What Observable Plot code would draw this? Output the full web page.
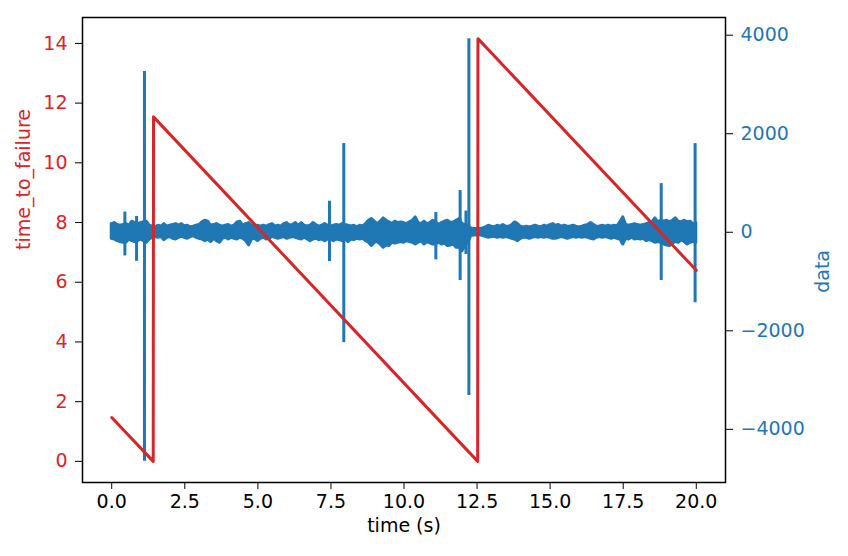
<!DOCTYPE html>
<html><head><meta charset="utf-8">
<script src="https://cdn.jsdelivr.net/npm/d3@7"></script>
<script src="https://cdn.jsdelivr.net/npm/@observablehq/plot@0.6"></script>
<style>
html,body{margin:0;padding:0;background:#fff;}
#chart{position:relative;width:848px;height:556px;}
#chart svg{position:absolute;left:0;top:0;}
</style></head><body><div id="chart"></div>
<script>
// time_to_failure series (red, left axis)
const ttfTime  = [0, 1.42, 1.43, 12.52, 12.53, 20];
const ttfValue = [1.47, 0, 11.54, 0, 14.16, 6.40];

// acoustic data envelope (blue, right axis), sampled every 0.1 s
const bandTime = [0,0.1,0.2,0.3,0.4,0.5,0.6,0.7,0.8,0.9,1,1.1,1.2,1.3,1.4,1.5,1.6,1.7,1.8,1.9,2,2.1,2.2,2.3,2.4,2.5,2.6,2.7,2.8,2.9,3,3.1,3.2,3.3,3.4,3.5,3.6,3.7,3.8,3.9,4,4.1,4.2,4.3,4.4,4.5,4.6,4.7,4.8,4.9,5,5.1,5.2,5.3,5.4,5.5,5.6,5.7,5.8,5.9,6,6.1,6.2,6.3,6.4,6.5,6.6,6.7,6.8,6.9,7,7.1,7.2,7.3,7.4,7.5,7.6,7.7,7.8,7.9,8,8.1,8.2,8.3,8.4,8.5,8.6,8.7,8.8,8.9,9,9.1,9.2,9.3,9.4,9.5,9.6,9.7,9.8,9.9,10,10.1,10.2,10.3,10.4,10.5,10.6,10.7,10.8,10.9,11,11.1,11.2,11.3,11.4,11.5,11.6,11.7,11.8,11.9,12,12.1,12.2,12.3,12.4,12.5,12.6,12.7,12.8,12.9,13,13.1,13.2,13.3,13.4,13.5,13.6,13.7,13.8,13.9,14,14.1,14.2,14.3,14.4,14.5,14.6,14.7,14.8,14.9,15,15.1,15.2,15.3,15.4,15.5,15.6,15.7,15.8,15.9,16,16.1,16.2,16.3,16.4,16.5,16.6,16.7,16.8,16.9,17,17.1,17.2,17.3,17.4,17.5,17.6,17.7,17.8,17.9,18,18.1,18.2,18.3,18.4,18.5,18.6,18.7,18.8,18.9,19,19.1,19.2,19.3,19.4,19.5,19.6,19.7,19.8,19.9,20];
const bandHi = [
166,187,146,132,146,166,132,214,187,166,
187,200,214,132,112,99,132,112,166,112,
132,146,166,132,166,119,132,99,112,132,
146,200,234,214,132,146,166,132,112,132,
146,112,132,200,214,132,166,187,132,112,
132,112,132,112,146,166,112,132,112,166,
187,132,146,187,132,187,132,119,132,187,
146,112,132,166,132,112,132,146,132,166,
146,132,119,132,99,132,119,166,234,268,
214,166,214,281,234,200,166,214,187,200,
187,166,200,234,302,187,166,214,166,187,
234,200,146,187,214,234,187,200,234,268,
166,146,132,78,65,65,65,78,99,132,
112,99,132,112,146,112,112,146,200,166,
112,99,112,99,112,132,112,99,132,112,
146,166,132,146,112,132,112,119,132,112,
99,112,132,146,187,146,112,119,132,112,
132,112,132,119,200,302,146,132,146,166,
146,132,146,166,187,200,281,200,234,214,
234,200,234,281,214,200,234,200,214,166,
187];
const bandLo = [
-132,-146,-180,-200,-214,-214,-146,-180,-200,-180,
-146,-180,-214,-146,-112,-99,-112,-92,-160,-112,
-99,-132,-146,-112,-92,-112,-132,-99,-78,-112,
-132,-146,-180,-146,-200,-132,-180,-214,-132,-112,
-146,-112,-132,-146,-112,-132,-180,-268,-146,-132,
-180,-132,-112,-146,-132,-99,-112,-132,-112,-99,
-132,-112,-99,-112,-132,-146,-112,-146,-180,-146,
-132,-160,-146,-180,-146,-146,-180,-146,-160,-180,
-146,-200,-146,-160,-132,-146,-132,-180,-214,-281,
-214,-200,-248,-315,-268,-281,-214,-227,-214,-200,
-214,-180,-200,-214,-248,-214,-180,-248,-200,-227,
-248,-248,-214,-248,-227,-281,-268,-248,-315,-315,
-383,-281,-214,-78,-65,-65,-58,-78,-92,-112,
-99,-92,-112,-99,-112,-99,-112,-132,-146,-180,
-132,-112,-112,-132,-112,-99,-112,-99,-112,-99,
-112,-132,-132,-112,-99,-112,-132,-112,-99,-112,
-99,-112,-99,-112,-132,-146,-112,-99,-112,-99,
-112,-132,-112,-132,-146,-248,-132,-146,-112,-146,
-132,-146,-132,-180,-160,-180,-214,-200,-214,-248,
-268,-281,-227,-200,-214,-160,-200,-248,-214,-200,
-214];
// isolated bursts in the data
const spikeTime = [0.45, 0.85, 1.12, 7.45, 7.94, 11.09, 11.92, 12.12, 12.22, 18.80, 19.96];
const spikeHi   = [410, 320, 3265, 630, 1800, 400, 846, 430, 3930, 988, 1800];
const spikeLo   = [-480, -590, -4650, -595, -2240, -560, -980, -450, -3315, -980, -1430];

// ticks
const xTicks = [0, 2.5, 5, 7.5, 10, 12.5, 15, 17.5, 20];
const leftTicks = [0, 2, 4, 6, 8, 10, 12, 14];
const rightTicks = [-4000, -2000, 0, 2000, 4000];

const RED = "#d62728", BLUE = "#1f77b4";
const W = 848, H = 556;
const margins = {marginTop: 17, marginRight: 123, marginBottom: 74, marginLeft: 82};
const pad = ([a, b]) => [a - (b - a) * 0.05, b + (b - a) * 0.05];

const ttf = ttfTime.map((t, i) => ({t, v: ttfValue[i]}));
const band = bandTime.map((t, i) => ({t, hi: bandHi[i], lo: bandLo[i]}));
const spikes = spikeTime.map((t, i) => ({t, hi: spikeHi[i], lo: spikeLo[i]}));

const xDomain = pad(d3.extent(bandTime));
const leftDomain = pad(d3.extent(ttfValue));
const rightDomain = pad(d3.extent([...bandHi, ...bandLo, ...spikeHi, ...spikeLo]));

const FS = 19;
const style = {background: "transparent", fontFamily: "DejaVu Sans", fontSize: FS + "px", overflow: "visible"};
const minusFmt = d => d < 0 ? "\u2212" + Math.abs(d) : String(d);
const xFmt = d3.format(".1f");
const leftFmt = d => String(d);

const bluePlot = Plot.plot({
  width: W, height: H, ...margins, style,
  x: {domain: xDomain, axis: null},
  y: {domain: rightDomain, axis: "right", ticks: rightTicks, tickSize: 7, tickPadding: 8, tickFormat: minusFmt, label: null},
  marks: [
    Plot.areaY(band, {x: "t", y1: "lo", y2: "hi", fill: BLUE, stroke: BLUE, strokeWidth: 3, strokeLinejoin: "round"}),
    Plot.ruleX(spikes, {x: "t", y1: "lo", y2: "hi", stroke: BLUE, strokeWidth: 3}),
    Plot.text(["data"], {text: d => d, frameAnchor: "right", dx: 97, rotate: -90, fill: BLUE, fontSize: FS})
  ]
});

const redPlot = Plot.plot({
  width: W, height: H, ...margins, style,
  x: {domain: xDomain, axis: "bottom", ticks: xTicks, tickSize: 7, tickPadding: 5, tickFormat: xFmt, label: null},
  y: {domain: leftDomain, axis: "left", ticks: leftTicks, tickSize: 7, tickPadding: 8, tickFormat: leftFmt, label: null},
  marks: [
    Plot.line(ttf, {x: "t", y: "v", stroke: RED, strokeWidth: 3, strokeLinejoin: "round"}),
    Plot.frame({stroke: "black", strokeWidth: 1.5}),
    Plot.text(["time_to_failure"], {text: d => d, frameAnchor: "left", dx: -59, rotate: -90, fill: RED, fontSize: FS}),
    Plot.text(["time (s)"], {text: d => d, frameAnchor: "bottom", dy: 49, fill: "black", fontSize: FS})
  ]
});

// colour the tick labels like the reference (ticks stay black)
function styleAxis(svg, labels, color) {
  svg.querySelectorAll("text").forEach(t => {
    if (labels.includes(t.textContent)) { t.setAttribute("fill", color); t.style.fill = color; }
  });
  svg.querySelectorAll("line").forEach(l => {
    if (!l.closest('g[aria-label="rule"]')) {
      l.setAttribute("stroke", "#000"); l.style.stroke = "#000"; l.style.strokeWidth = "1.5px";
    }
  });
}
styleAxis(bluePlot, rightTicks.map(minusFmt), BLUE);
styleAxis(redPlot, leftTicks.map(leftFmt), RED);

const el = document.getElementById("chart");
el.appendChild(bluePlot);
el.appendChild(redPlot);
</script></body></html>
